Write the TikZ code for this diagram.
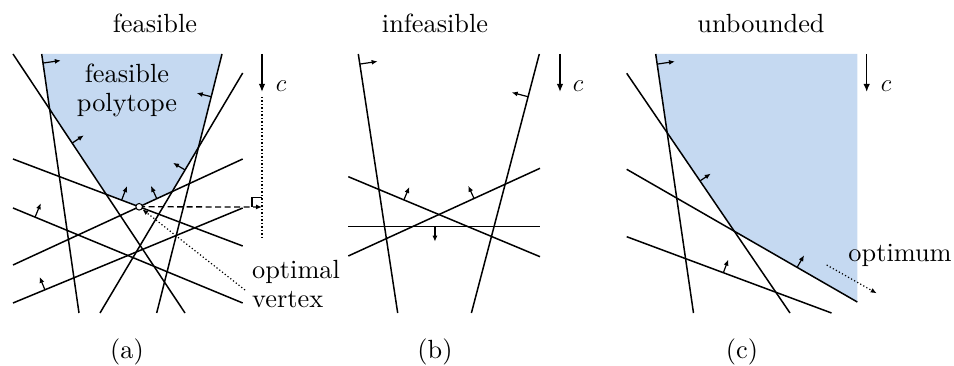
\documentclass[tikz,border=0pt]{standalone}
\usepackage{fontspec}
\setmainfont{lmroman10-regular.otf}
\usetikzlibrary{arrows.meta,calc}
\definecolor{feas}{RGB}{197,217,241}
\tikzset{
  hp/.style={line width=1.5pt},
  nrm/.style={line width=1.2pt,-{Latex[length=6pt,width=5pt]}},
  cvec/.style={line width=1.5pt,-{Latex[length=8pt,width=6.5pt]}},
  lbl/.style={font=\fontsize{26.3}{29}\selectfont, inner sep=0pt},
  dotline/.style={line width=1.2pt,dash pattern=on 1.2pt off 2.3pt},
  dashline/.style={line width=1.3pt,dash pattern=on 6pt off 3.5pt},
}
% #1 start, #2 end, #3 position, #4 angle, #5 length
\newcommand\hpnormal[5]{%
  \path ($(#1)!#3!(#2)$) coordinate (tmpbase);
  \draw[nrm] (tmpbase) -- ($(tmpbase)!#5!#4:(#2)$);}
\begin{document}
\begin{tikzpicture}[x=1pt,y=-1pt]
\useasboundingbox (0,0) rectangle (954,366);
% ---------------- panel (a)
\coordinate (a1s) at (41.7,54);  \coordinate (a1e) at (79,313);
\coordinate (a2s) at (13,54);    \coordinate (a2e) at (185,313);
\coordinate (a3s) at (222,54);   \coordinate (a3e) at (156.7,313);
\coordinate (a4s) at (242.7,73); \coordinate (a4e) at (100,313);
\coordinate (a5s) at (13,159);   \coordinate (a5e) at (242.7,246);
\coordinate (a6s) at (13,265);   \coordinate (a6e) at (242.7,159);
\coordinate (a7s) at (13,208);   \coordinate (a7e) at (242.7,303);
\coordinate (a8s) at (13,303);   \coordinate (a8e) at (242.7,208);
\coordinate (V) at (intersection of a5s--a5e and a6s--a6e);
\fill[feas] (a1s) -- (intersection of a1s--a1e and a2s--a2e)
  -- (intersection of a2s--a2e and a5s--a5e) -- (V)
  -- (intersection of a6s--a6e and a4s--a4e)
  -- (intersection of a4s--a4e and a3s--a3e) -- (a3s) -- cycle;
\foreach \i in {1,...,8}{\draw[hp] (a\i s) -- (a\i e);}
\hpnormal{a1s}{a1e}{0.035}{90}{18pt}
\hpnormal{a2s}{a2e}{0.344}{90}{14pt}
\hpnormal{a3s}{a3e}{0.165}{-90}{15pt}
\hpnormal{a4s}{a4e}{0.404}{-90}{14pt}
\hpnormal{a5s}{a5e}{0.473}{90}{15pt}
\hpnormal{a6s}{a6e}{0.626}{90}{14pt}
\hpnormal{a7s}{a7e}{0.096}{90}{15pt}
\hpnormal{a8s}{a8e}{0.139}{90}{14pt}
\node[lbl,anchor=base] (fp1) at (127,82.7) {feasible};
\node[lbl,anchor=base] (fp2) at (127,111.7) {polytope};
% objective
\coordinate (ca1) at (262,54); \coordinate (ca2) at (262,92);
\draw[cvec] (ca1) -- (ca2);
\node[lbl,anchor=base] (cla) at (281,91.7) {$c$};
\coordinate (cd1) at (262,97); \coordinate (cd2) at (262,240);
\draw[dotline] (cd1) -- (cd2);
\coordinate (foot) at (262,207);
\draw[dashline,-{Latex[length=6pt,width=5pt]}] (V) -- (foot);
\coordinate (ra1) at (252,207); \coordinate (ra2) at (252,197.3); \coordinate (ra3) at (262,197.3);
\draw[line width=1.2pt] (ra1) -- (ra2) -- (ra3);
\coordinate (ov) at (245,290);
\draw[dotline,-{Latex[length=6pt,width=5pt]},shorten >=4pt] (ov) -- (V);
\draw[line width=1pt,fill=white] (V) circle (3.3pt);
\node[lbl,anchor=base west] (ov1) at (252,279) {optimal};
\node[lbl,anchor=base west] (ov2) at (252,307.7) {vertex};
\node[lbl,anchor=base] (ta) at (155,33) {feasible};
\node[lbl,anchor=base] (capa) at (127,359) {(a)};
% ---------------- panel (b)
\coordinate (b1s) at (358.3,54);  \coordinate (b1e) at (397.7,313);
\coordinate (b2s) at (539.3,54);  \coordinate (b2e) at (471.4,313);
\coordinate (b3s) at (348.3,226.7); \coordinate (b3e) at (540,226.7);
\coordinate (b4s) at (348.3,176.7); \coordinate (b4e) at (540,256.7);
\coordinate (b5s) at (348.3,256);   \coordinate (b5e) at (540,168.3);
\foreach \i in {1,...,5}{\draw[hp] (b\i s) -- (b\i e);}
\hpnormal{b1s}{b1e}{0.039}{90}{18pt}
\hpnormal{b2s}{b2e}{0.165}{-90}{17pt}
\hpnormal{b3s}{b3e}{0.452}{-90}{15pt}
\hpnormal{b4s}{b4e}{0.29}{90}{14pt}
\hpnormal{b5s}{b5e}{0.656}{90}{14pt}
\coordinate (cb1) at (560,54); \coordinate (cb2) at (560,92);
\draw[cvec] (cb1) -- (cb2);
\node[lbl,anchor=base] (clb) at (578,91.7) {$c$};
\node[lbl,anchor=base] (tb) at (435,33) {infeasible};
\node[lbl,anchor=base] (capb) at (435,359) {(b)};
% ---------------- panel (c)
\coordinate (c1s) at (655.7,54);  \coordinate (c1e) at (693.5,313);
\coordinate (c2s) at (626.7,73.3); \coordinate (c2e) at (790,313);
\coordinate (c3s) at (626.7,169.3); \coordinate (c3e) at (857.3,302);
\coordinate (c4s) at (626.7,236.7); \coordinate (c4e) at (831.5,313);
\coordinate (ctr) at (857.3,54);
\fill[feas] (c1s) -- (ctr) -- (c3e)
  -- (intersection of c3s--c3e and c2s--c2e)
  -- (intersection of c2s--c2e and c1s--c1e) -- cycle;
\foreach \i in {1,...,4}{\draw[hp] (c\i s) -- (c\i e);}
\hpnormal{c1s}{c1e}{0.039}{90}{18pt}
\hpnormal{c2s}{c2e}{0.449}{90}{13pt}
\hpnormal{c3s}{c3e}{0.739}{90}{14pt}
\hpnormal{c4s}{c4e}{0.472}{90}{14pt}
\coordinate (cc1) at (866.7,54); \coordinate (cc2) at (866.7,92);
\draw[cvec] (cc1) -- (cc2);
\node[lbl,anchor=base] (clc) at (886,91.7) {$c$};
\coordinate (op1) at (826.7,265); \coordinate (op2) at (876.7,293.3);
\draw[dotline,-{Latex[length=6pt,width=5pt]}] (op1) -- (op2);
\node[lbl,anchor=base] (opt) at (900,261.7) {optimum};
\node[lbl,anchor=base] (tc) at (761,33) {unbounded};
\node[lbl,anchor=base] (capc) at (742,359) {(c)};
\end{tikzpicture}
\end{document}
